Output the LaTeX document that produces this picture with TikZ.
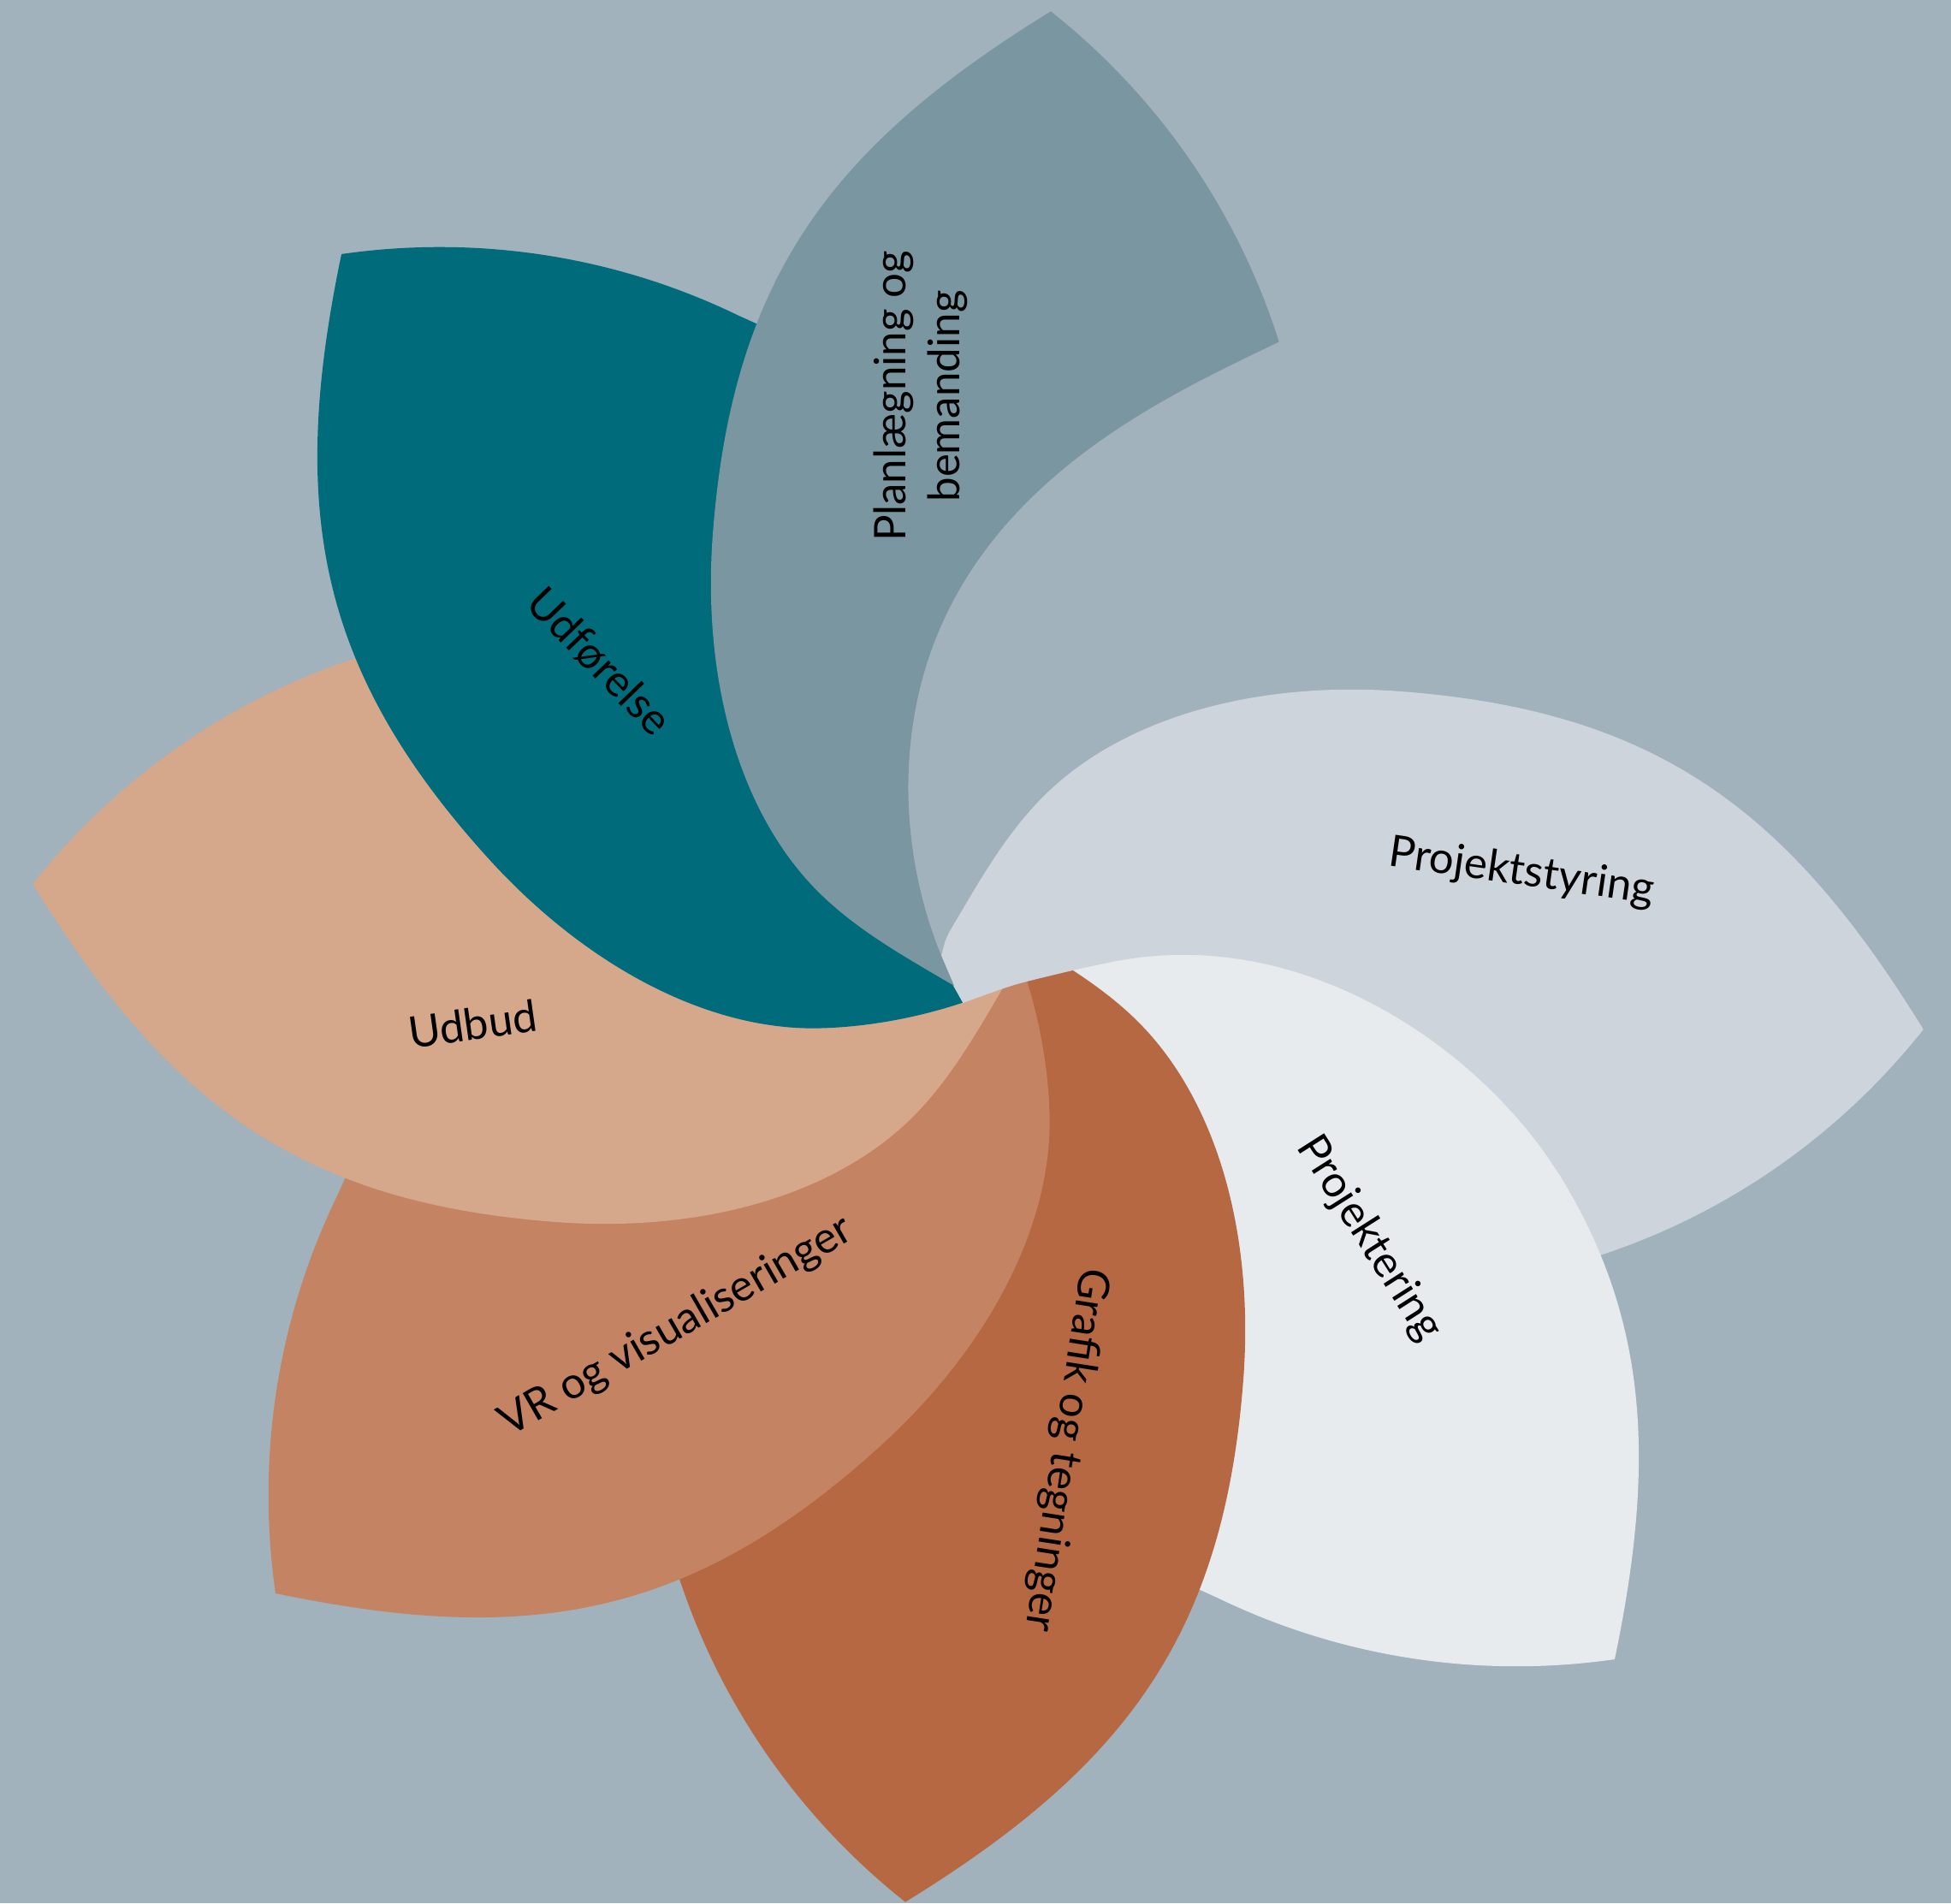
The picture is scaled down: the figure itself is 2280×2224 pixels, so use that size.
\documentclass[tikz,border=0pt]{standalone}
\usepackage{fontspec}
\setmainfont{Lato}
\begin{document}
\begin{tikzpicture}[x=1pt,y=1pt]
\definecolor{bgc}{HTML}{A1B2BC}
\definecolor{plc}{HTML}{7A96A0}
\definecolor{ufc}{HTML}{006B7A}
\definecolor{psc}{HTML}{CDD4DB}
\definecolor{pkc}{HTML}{E7EBEE}
\definecolor{grc}{HTML}{B56842}
\definecolor{vrc}{HTML}{C48464}
\definecolor{ubc}{HTML}{D5A78B}
\tikzset{
  petalE/.pic={
    \path[pic actions] (-36,25.3) .. controls (-7.5,83.7) and (20.4,144.9) .. (63,194)
      .. controls (148.3,292.2) and (300,347) .. (470,347)
      .. controls (770,347) and (931.6,242.7) .. (1108,0)
      .. controls (1018.6,-132.6) and (891.7,-235.8) .. (743.5,-295.5)
      -- (712.9,-308.8) -- (682.4,-251) -- (606.7,-150.1) -- (533.3,-71.1) -- (451,-4.7)
      -- (368.5,42.6) -- (280.9,75.8) -- (185.5,84.9) -- (100.8,72.2) -- (33.9,55.5) -- (-5.8,43.6) -- cycle;
  },
  petalO/.pic={
    \path[pic actions] (-27.7,49.4) .. controls (-10,90) and (20.4,144.9) .. (63,194)
      .. controls (148.3,292.2) and (300,347) .. (470,347)
      .. controls (770,347) and (931.6,242.7) .. (1108,0)
      .. controls (1018.6,-132.6) and (891.7,-235.8) .. (743.5,-295.5)
      -- (712.9,-308.8) -- (672,-322) -- (667.7,-287.6) -- (597.7,-182.7) -- (528.6,-99.9) -- (450.1,-29.1)
      -- (370.3,22.6) -- (284.6,60.5) -- (189.8,74.8) -- (104.6,66.6) -- (36.8,53.6) -- (-3.5,43.9) -- cycle;
  },
  petalP/.pic={
    \path[pic actions] (-36,25.3) .. controls (-7.5,83.7) and (20.4,144.9) .. (63,194)
      .. controls (148.3,292.2) and (300,347) .. (470,347)
      .. controls (770,347) and (931.6,242.7) .. (1108,0)
      .. controls (1018.6,-132.6) and (891.7,-235.8) .. (743.5,-295.5)
      .. controls (667.4,-166.3) and (530,98) .. (230,98)
      .. controls (150,98) and (69.1,78.8) .. (-2.3,42.9) -- cycle;
  },
  lbl/.style={font=\fontsize{51}{63}\selectfont, text=black, inner sep=0pt, anchor=base}
}
\useasboundingbox (0,0) rectangle (2280,2224);
\fill[bgc] (0,0) rectangle (2280,2224);
% petals, bottom to top
\pic[fill=psc, rotate=-4.4] at (1143,1106) {petalE};
\pic[fill=pkc, rotate=-47.82] at (1143,1106) {petalO};
\pic[fill=grc, rotate=-94.4] at (1143,1106) {petalE};
\pic[fill=vrc, rotate=-137.82] at (1143,1106) {petalO};
\pic[fill=ubc, rotate=175.6] at (1143,1106) {petalE};
% central part of Projektstyring
\fill[psc] plot[smooth] coordinates {(1124,1051.5) (1173,1069) (1200,1077) (1258,1091) (1300,1100)}
  .. controls (1525.4,1145.1) and (1733.5,995.3) .. (1822.6,850.5)
  -- (1790,906) -- (1745,968) -- (1672,1047) -- (1590,1112) -- (1508,1160) -- (1420,1192)
  -- (1330,1202) -- (1245,1190) -- (1177,1174) -- (1150,1166) -- (1125,1161) -- (1114.9,1144)
  -- (1109,1134) -- (1104.5,1124) -- (1100,1107) -- (1111,1073) -- cycle;
\pic[fill=ufc, rotate=132.18] at (1143,1106) {petalO};
\pic[fill=plc, rotate=85.6] at (1143,1106) {petalP};
% labels
\node[lbl, anchor=center, rotate=90, align=center] (tpl) at (1076,1761) {Planlægning og\\bemanding};
\node[lbl, rotate=-46] (tuf) at (688,1439) {Udførelse};
\node[lbl, rotate=-8.2] (tps) at (1776,1190) {Projektstyring};
\node[lbl, rotate=-57.5] (tpk) at (1588,769) {Projektering};
\node[lbl, rotate=-98.8] (tgr) at (1231,532) {Grafik og tegninger};
\node[lbl, rotate=29.9] (tvr) at (797.5,661) {VR og visualiseringer};
\node[lbl, rotate=8] (tub) at (555,1009) {Udbud};
\end{tikzpicture}
\end{document}
